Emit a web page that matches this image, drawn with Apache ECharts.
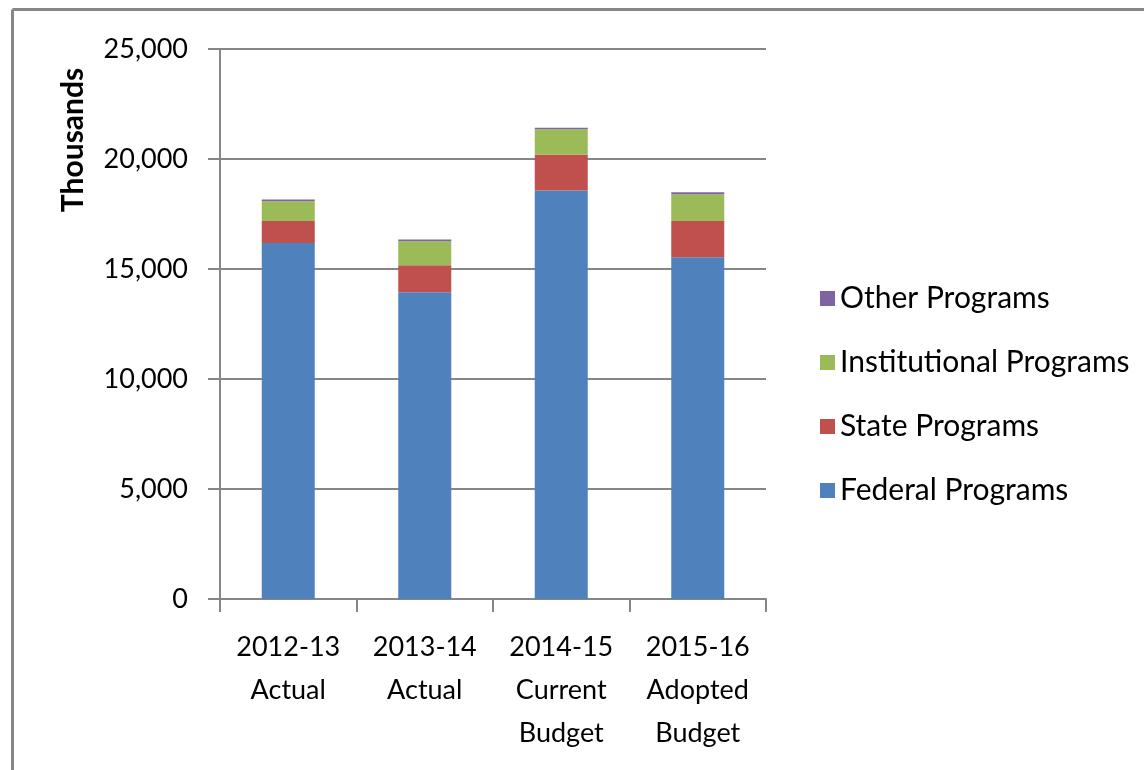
<!DOCTYPE html>
<html>
<head>
<meta charset="utf-8">
<script src="https://cdn.jsdelivr.net/npm/echarts@6/dist/echarts.min.js"></script>
<style>
html,body{margin:0;padding:0;background:#fff;}
#chart{width:1144px;height:770px;}
</style>
</head>
<body>
<div id="chart"></div>
<script>
const categories = ['2012-13\nActual', '2013-14\nActual', '2014-15\nCurrent\nBudget', '2015-16\nAdopted\nBudget'];
const federal = [16180, 13940, 18570, 15530];
const state = [1000, 1230, 1620, 1650];
const institutional = [900, 1090, 1160, 1220];
const other = [80, 80, 70, 90];
const yTicks = [0, 5000, 10000, 15000, 20000, 25000];

const FONT = 'Lato';
const chart = echarts.init(document.getElementById('chart'));
chart.setOption({
  animation: false,
  backgroundColor: '#fff',
  textStyle: { fontFamily: FONT },
  grid: { left: 220, right: 378, top: 49, bottom: 171, containLabel: false },
  graphic: [
    { type: 'line', shape: { x1: 12.5, y1: 9.5, x2: 1144, y2: 9.5 }, style: { stroke: '#878787', lineWidth: 3 } },
    { type: 'line', shape: { x1: 12.5, y1: 9.5, x2: 12.5, y2: 770 }, style: { stroke: '#878787', lineWidth: 3 } },
    { type: 'text', x: 73, y: 140, rotation: Math.PI / 2,
      style: { text: 'Thousands', font: 'bold 30px ' + FONT, fill: '#000', align: 'center', verticalAlign: 'middle' } }
  ],
  legend: {
    orient: 'vertical', left: 815, top: 278,
    itemWidth: 15, itemHeight: 15, itemGap: 33,
    icon: 'rect',
    textStyle: { fontSize: 30, lineHeight: 31, color: '#000', fontFamily: FONT },
    data: ['Other Programs', 'Institutional Programs', 'State Programs', 'Federal Programs']
  },
  xAxis: {
    type: 'category', data: categories,
    axisLine: { lineStyle: { color: '#868686', width: 2 } },
    axisTick: { show: true, length: 13, alignWithLabel: false, lineStyle: { color: '#868686', width: 2 } },
    axisLabel: { fontSize: 27, lineHeight: 43, color: '#000', margin: 27, interval: 0, fontFamily: FONT }
  },
  yAxis: {
    type: 'value', min: 0, max: 25000, interval: 5000,
    axisLine: { show: true, lineStyle: { color: '#868686', width: 2 } },
    axisTick: { show: true, length: 12, inside: false, lineStyle: { color: '#868686', width: 2 } },
    splitLine: { lineStyle: { color: '#868686', width: 2 } },
    axisLabel: { fontSize: 27, color: '#000', margin: 32, fontFamily: FONT,
      formatter: v => yTicks.includes(v) ? v.toLocaleString('en-US') : '' }
  },
  series: [
    { name: 'Federal Programs', type: 'bar', stack: 'a', data: federal, barWidth: 53, itemStyle: { color: '#4F81BD' } },
    { name: 'State Programs', type: 'bar', stack: 'a', data: state, itemStyle: { color: '#C0504D' } },
    { name: 'Institutional Programs', type: 'bar', stack: 'a', data: institutional, itemStyle: { color: '#9BBB59' } },
    { name: 'Other Programs', type: 'bar', stack: 'a', data: other, itemStyle: { color: '#8064A2' } }
  ]
});
</script>
</body>
</html>
